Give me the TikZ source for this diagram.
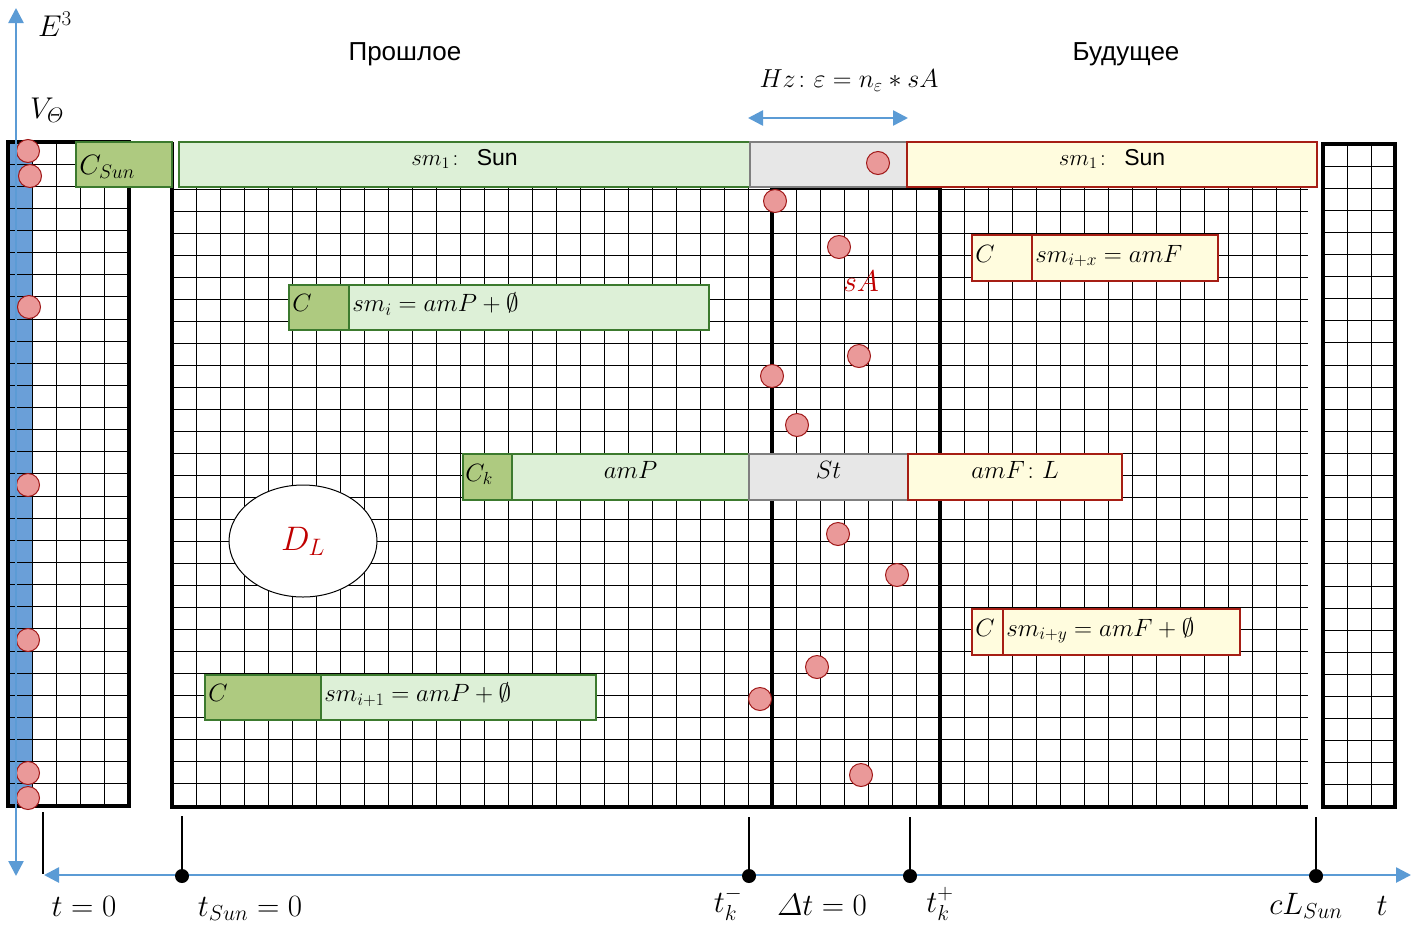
\RequirePackage{fix-cm}
\documentclass[tikz,border=0pt]{standalone}
\usepackage{amsmath}
\usepackage[no-math]{fontspec}
\newfontfamily\arialf{Liberation Sans}
\usetikzlibrary{arrows.meta,shapes.geometric,fit}
\definecolor{gdark}{HTML}{AECA80}
\definecolor{glight}{HTML}{DDF0D7}
\definecolor{gbord}{HTML}{3C7A2E}
\definecolor{ylw}{HTML}{FFFCDE}
\definecolor{rbord}{HTML}{A61E14}
\definecolor{grf}{HTML}{E7E7E7}
\definecolor{grbord}{HTML}{7F7F7F}
\definecolor{dotf}{HTML}{EA9999}
\definecolor{dotb}{HTML}{A01818}
\definecolor{axb}{HTML}{5B9BD5}
\definecolor{strip}{HTML}{6A9FD8}
\definecolor{redtxt}{HTML}{C00000}
\begin{document}
\begin{tikzpicture}[x=1pt,y=-1pt,
  gl/.style={line width=1pt},
  tb/.style={line width=3.2pt},
  bdg/.style={draw=gbord, fill=gdark, line width=1.6pt, inner sep=0pt},
  blg/.style={draw=gbord, fill=glight, line width=1.6pt, inner sep=0pt},
  byl/.style={draw=rbord, fill=ylw, line width=1.6pt, inner sep=0pt},
  bgr/.style={draw=grbord, fill=grf, line width=1.6pt, inner sep=0pt},
  rdot/.style={circle, draw=dotb, fill=dotf, line width=1pt, minimum size=23pt, inner sep=0pt},
  tdot/.style={circle, fill=black, minimum size=14pt, inner sep=0pt},
  tickln/.style={line width=2pt},
  axisln/.style={draw=axb, line width=2.6pt, {Triangle[length=15pt,width=15pt]}-{Triangle[length=15pt,width=15pt]}},
  bt/.style={font=\fontsize{25}{29}\selectfont, inner sep=0pt},
  axlab/.style={font=\fontsize{31}{35}\selectfont, inner sep=0pt, anchor=base},
  rus/.style={font=\arialf\fontsize{26}{30}\selectfont, inner sep=0pt}
]
\useasboundingbox (0,0) rectangle (1418,924);

% blue strip
\fill[strip] (8,142) rectangle (32,806);

% left grid
\foreach \x in {32,56,80,104} \draw[gl] (\x,142) -- (\x,806);
\foreach \i in {1,...,29} \draw[gl] (8,142+\i*22.13) -- (129,142+\i*22.13);
% main grid
\foreach \x in {196,220,...,1300} \draw[gl] (\x,142) -- (\x,807);
\foreach \y in {189,211,...,783} \draw[gl] (172,\y) -- (1308,\y);
% right grid
\foreach \x in {1347,1371} \draw[gl] (\x,144) -- (\x,807);
\foreach \i in {1,...,29} \draw[gl] (1323,144+\i*22.1) -- (1395,144+\i*22.1);

% borders
\draw[tb] (8,142) rectangle (129,806);
\draw[tb] (172,142) -- (172,807) -- (1308,807);
\draw[tb] (772,188) rectangle (940,807);
\draw[tb] (1323,144) rectangle (1395,807);

% top band
\node[bdg, fit={(76,142)(172,187)}] (csun) {};
\node[blg, fit={(179,142)(750,187)}] (smsa) {};
\node[bgr, fit={(750,142)(907,187)}] (hzb) {};
\node[byl, fit={(907,142)(1317,187)}] (smsb) {};
\node[anchor=base west, font=\fontsize{28}{32}\selectfont, inner sep=0pt] (csunt) at ([xshift=4pt,yshift=-10pt]csun.west) {$C_{Sun}$};
\node[bt, anchor=base, font=\fontsize{23}{27}\selectfont] (smsat) at ([yshift=-1pt]smsa.center) {$sm_1\colon$\ \,{\arialf Sun}};
\node[bt, anchor=base, font=\fontsize{23}{27}\selectfont] (smsbt) at ([yshift=-1pt]smsb.center) {$sm_1\colon$\ \,{\arialf Sun}};

% boxes
\node[bdg, fit={(289,285)(349,330)}] (ci) {};
\node[blg, fit={(349,285)(709,330)}] (smi) {};
\node[bdg, fit={(463,454)(512,500)}] (ck) {};
\node[blg, fit={(512,454)(749,500)}] (amp) {};
\node[bgr, fit={(749,454)(908,500)}] (st) {};
\node[byl, fit={(908,454)(1122,500)}] (amf) {};
\node[byl, fit={(972,235)(1032,281)}] (cx) {};
\node[byl, fit={(1032,235)(1218,281)}] (smx) {};
\node[byl, fit={(972,609)(1003,655)}] (cy) {};
\node[byl, fit={(1003,609)(1240,655)}] (smy) {};
\node[bdg, fit={(205,675)(321,720)}] (c1) {};
\node[blg, fit={(321,675)(596,720)}] (smp1) {};

\node[bt, anchor=base west] (cit) at ([xshift=4pt,yshift=-4pt]ci.west) {$C$};
\node[bt, anchor=base west] (smit) at ([xshift=4pt,yshift=-4pt]smi.west) {$sm_i = amP + \emptyset$};
\node[bt, anchor=base west] (ckt) at ([xshift=3pt,yshift=-4pt]ck.west) {$C_k$};
\node[bt, anchor=base] (ampt) at ([yshift=-1pt]amp.center) {$amP$};
\node[bt, anchor=base] (stt) at ([yshift=-1pt]st.center) {$St$};
\node[bt, anchor=base] (amft) at ([yshift=-1pt]amf.center) {$amF\colon L$};
\node[bt, anchor=base west] (cxt) at ([xshift=4pt,yshift=-4pt]cx.west) {$C$};
\node[bt, anchor=base west] (smxt) at ([xshift=4pt,yshift=-4pt]smx.west) {$sm_{i+x} = amF$};
\node[bt, anchor=base west] (cyt) at ([xshift=4pt,yshift=-4pt]cy.west) {$C$};
\node[bt, anchor=base west] (smyt) at ([xshift=4pt,yshift=-4pt]smy.west) {$sm_{i+y} = amF + \emptyset$};
\node[bt, anchor=base west] (c1t) at ([xshift=4pt,yshift=-4pt]c1.west) {$C$};
\node[bt, anchor=base west] (smp1t) at ([xshift=4pt,yshift=-4pt]smp1.west) {$sm_{i+1} = amP + \emptyset$};

% ellipse
\node[ellipse, draw, fill=white, line width=1pt, minimum width=148pt, minimum height=112pt, inner sep=0pt, font=\fontsize{34}{38}\selectfont, text=redtxt] (dl) at (303,541) {$D_L$};
\node[font=\fontsize{30}{34}\selectfont, text=redtxt, inner sep=0pt] (sa) at (861,281) {$sA$};

% red dots
\foreach \p [count=\k] in {(28,151),(30,176),(29,307),(28,485),(28,640),(28,773),(28,798),
  (878,163),(775,201),(839,247),(859,356),(772,376),(797,425),(838,534),(897,575),(817,667),(760,699),(861,775)}
  \node[rdot] (d\k) at \p {};

% vertical axis
\coordinate (vtop) at (16,8);
\coordinate (vbot) at (16,876);
\draw[axisln] (vbot) -- (vtop);
% horizontal axis
\coordinate (hl) at (44,875);
\coordinate (hr) at (1411,875);
\draw[axisln] (hl) -- (hr);
% Hz arrow
\coordinate (hza) at (748,118);
\coordinate (hzc) at (908,118);
\draw[axisln] (hza) -- (hzc);

% ticks
\coordinate (t0a) at (43,812);
\coordinate (t0b) at (43,874);
\draw[tickln] (t0a) -- (t0b);
\node[tdot] (ts) at (182,876) {};
\node[tdot] (tkm) at (749,876) {};
\node[tdot] (tkp) at (910,876) {};
\node[tdot] (tcl) at (1316,876) {};
\coordinate (tsa) at (182,816);
\coordinate (tkma) at (749,817);
\coordinate (tkpa) at (910,817);
\coordinate (tcla) at (1316,817);
\draw[tickln] (tsa) -- (ts.center);
\draw[tickln] (tkma) -- (tkm.center);
\draw[tickln] (tkpa) -- (tkp.center);
\draw[tickln] (tcla) -- (tcl.center);

% labels
\node[rus] (past) at (405,54) {Прошлое};
\node[rus] (fut) at (1126,54) {Будущее};
\node[font=\fontsize{26}{30}\selectfont, inner sep=0pt] (hzl) at (849,81) {$Hz\colon \varepsilon = n_\varepsilon * sA$};
\node[font=\fontsize{30}{34}\selectfont, inner sep=0pt] (e3) at (55,24) {$E^3$};
\node[font=\fontsize{30}{34}\selectfont, inner sep=0pt] (vth) at (47,110) {$V_{\varTheta}$};
\node[axlab] (lt0) at (84,916) {$t = 0$};
\node[axlab] (lts) at (250,916) {$t_{Sun} = 0$};
\node[axlab] (ltkm) at (728,912) {$t_k^-$};
\node[axlab] (ldt) at (822,915) {$\varDelta t = 0$};
\node[axlab] (ltkp) at (940,912) {$t_k^+$};
\node[axlab] (lcl) at (1306,914) {$cL_{Sun}$};
\node[axlab] (lt) at (1382,915) {$t$};
\end{tikzpicture}
\end{document}
